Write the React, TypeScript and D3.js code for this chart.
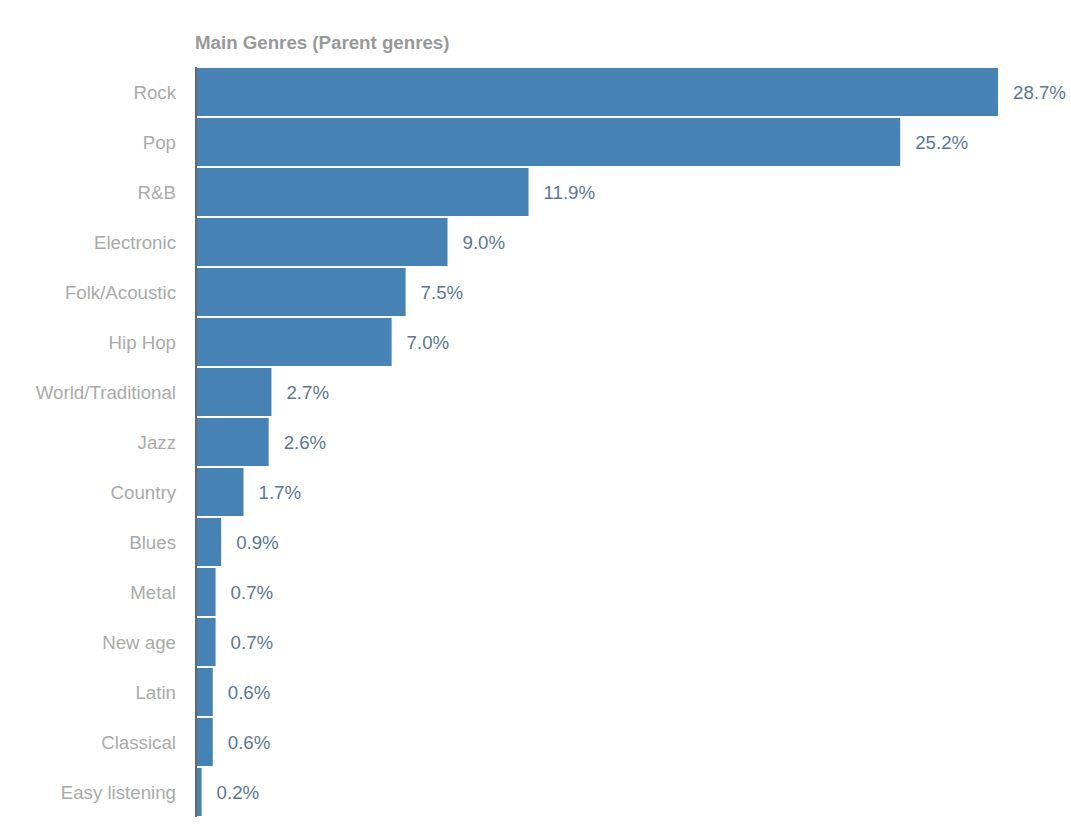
import { useRef, useEffect } from 'react';
import * as d3 from 'd3';

const genres = [
  'Rock', 'Pop', 'R&B', 'Electronic', 'Folk/Acoustic', 'Hip Hop', 'World/Traditional',
  'Jazz', 'Country', 'Blues', 'Metal', 'New age', 'Latin', 'Classical', 'Easy listening',
];
const shares = [28.7, 25.2, 11.9, 9.0, 7.5, 7.0, 2.7, 2.6, 1.7, 0.9, 0.7, 0.7, 0.6, 0.6, 0.2];

const W = 1071;
const H = 830;

const App = () => {
  const svgRef = useRef<SVGSVGElement>(null);

  useEffect(() => {
    const svg = d3.select(svgRef.current)
      .attr('width', W)
      .attr('height', H);
    svg.selectAll('*').remove();

    const data = genres.map((g, i) => ({ genre: g, value: shares[i] }));

    const x = d3.scaleLinear()
      .domain([0, 28.7])
      .range([196, 998]);

    const y = d3.scaleBand()
      .domain(genres)
      .range([67, 817]);

    const font = 'Arial, "Liberation Sans", sans-serif';
    const fs = 18.7;

    svg.append('text')
      .attr('x', 195)
      .attr('y', 44)
      .attr('dominant-baseline', 'middle')
      .attr('font-family', font)
      .attr('font-size', fs)
      .attr('font-weight', 'bold')
      .attr('fill', '#999')
      .text('Main Genres (Parent genres)');

    // bars
    svg.selectAll('.bar')
      .data(data)
      .enter().append('rect')
      .attr('class', 'bar')
      .attr('x', x(0))
      .attr('y', d => (y(d.genre) as number) + 1)
      .attr('width', d => x(d.value) - x(0))
      .attr('height', y.bandwidth() - 2)
      .attr('fill', '#4682b4');

    // value labels
    svg.selectAll('.val')
      .data(data)
      .enter().append('text')
      .attr('class', 'val')
      .attr('x', d => x(d.value) + 15)
      .attr('y', d => (y(d.genre) as number) + y.bandwidth() / 2 + 2)
      .attr('dominant-baseline', 'middle')
      .attr('font-family', font)
      .attr('font-size', fs)
      .attr('fill', '#5b7796')
      .text(d => d.value.toFixed(1) + '%');

    // category labels
    svg.selectAll('.cat')
      .data(data)
      .enter().append('text')
      .attr('class', 'cat')
      .attr('x', 176)
      .attr('y', d => (y(d.genre) as number) + y.bandwidth() / 2 + 2)
      .attr('text-anchor', 'end')
      .attr('dominant-baseline', 'middle')
      .attr('font-family', font)
      .attr('font-size', fs)
      .attr('fill', '#aaa')
      .text(d => d.genre);

    // axis line
    svg.append('line')
      .attr('x1', x(0))
      .attr('x2', x(0))
      .attr('y1', 67)
      .attr('y2', 817)
      .attr('stroke', '#666')
      .attr('stroke-width', 2);
  }, []);

  return <svg ref={svgRef} style={{ position: 'absolute', left: 0, top: 0 }}></svg>;
};

export default App;
